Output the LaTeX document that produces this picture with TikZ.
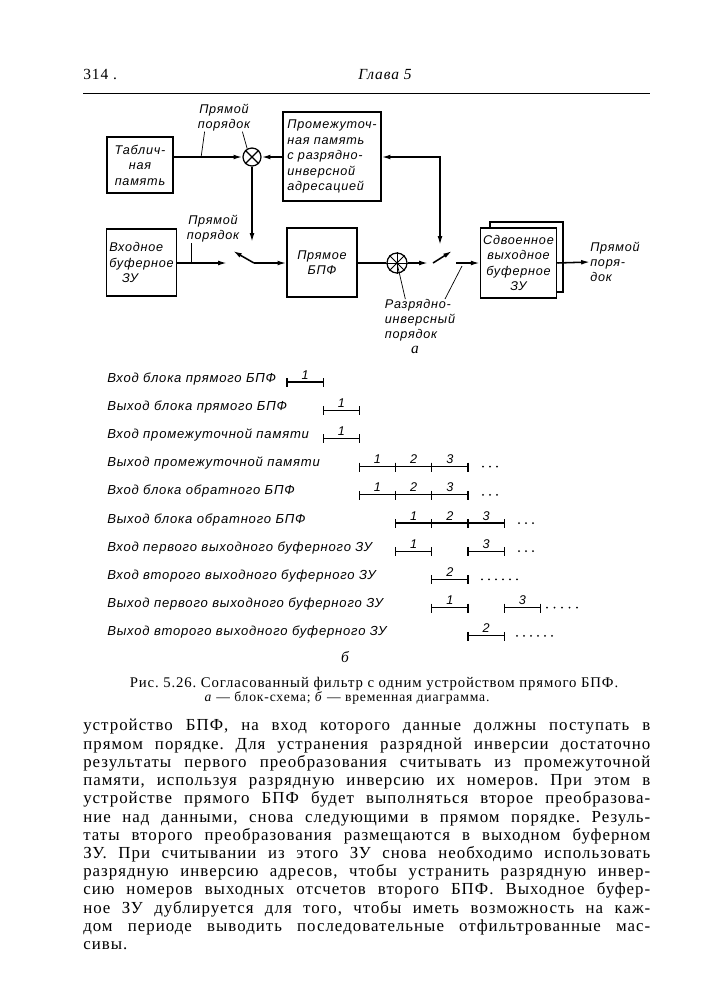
\documentclass[tikz,border=0pt]{standalone}
\usepackage{fontspec}
\setmainfont{Liberation Serif}
\newfontfamily\gost[LetterSpace=6]{Liberation Sans}
\newfontfamily\bookfont[LetterSpace=6]{Liberation Serif}
\usetikzlibrary{arrows.meta,positioning,calc}
\frenchspacing
\newcommand{\bline}[1]{\makebox[141.75mm][s]{#1}}
\tikzset{
  >={Latex[length=2.2mm,width=1.2mm]},
  blk/.style={draw,line width=0.9pt,fill=white,align=center,inner sep=2pt,
    font=\gost\itshape\fontsize{9}{11}\selectfont},
  sig/.style={line width=1.1pt},
  lead/.style={line width=0.5pt},
  lbl/.style={font=\gost\itshape\fontsize{9}{10.5}\selectfont,inner sep=0pt,align=center},
  rowlbl/.style={font=\gost\itshape\fontsize{9.3}{11}\selectfont,anchor=base west,inner sep=0pt},
  bar/.style={line width=0.8pt},
  num/.style={font=\gost\itshape\fontsize{9}{10}\selectfont,anchor=base,inner sep=0pt},
  book/.style={font=\bookfont\fontsize{#1}{13}\selectfont,inner sep=0pt},
  book/.default=11,
}

\begin{document}
\begin{tikzpicture}[x=0.25mm,y=-0.25mm]
  \fill[white] (0,0) rectangle (702,1000);
  \useasboundingbox (0,0) rectangle (702,1000);

  % page head
  \node[book,anchor=base west] (pgno) at (83,79) {314 .};
  \node[book,anchor=base,font=\bookfont\itshape\fontsize{11}{13}\selectfont] (chap) at (385,79) {Глава 5};
  \draw[line width=0.7pt] (83,93) -- (650,93);

  % a: block diagram
  \node[blk,minimum width=16.5mm,minimum height=14mm] (tab) at (140,165) {Таблич-\\ная\\память};
  \node[blk,align=left,minimum width=24.5mm,minimum height=22.25mm] (mem) at (332,156.5)
    {Промежуточ-\\ная память\\с разрядно-\\инверсной\\адресацией};
  \node[circle,draw,line width=0.9pt,minimum size=4.5mm,inner sep=0pt] (mul) at (252,157) {};
  \draw[line width=0.8pt] (mul.45) -- (mul.225) (mul.135) -- (mul.315);

  \node[blk,align=left,minimum width=17.25mm,minimum height=16.75mm] (inbuf) at (141.5,262.5)
    {Входное\\буферное\\\hspace*{1em}ЗУ};
  \node[blk,minimum width=17.5mm,minimum height=17.25mm] (fft) at (322,262.5) {Прямое\\БПФ};
  \node[circle,draw,line width=0.9pt,minimum size=5mm,inner sep=0pt] (wh) at (397,263) {};
  \foreach \a/\b in {0/180,45/225,90/270,135/315}
    \draw[line width=0.6pt] (wh.\a) -- (wh.\b);
  \fill (wh.center) circle[radius=0.35mm];
  \node[blk,minimum width=18.25mm,minimum height=17.5mm] (dblb) at (526.5,257) {};
  \node[blk,minimum width=18.25mm,minimum height=17.5mm] (dbl) at (518.5,263)
    {Сдвоенное\\выходное\\буферное\\ЗУ};
  \node[lbl,align=left,anchor=west] (outlab) at (590,262) {Прямой\\поря-\\док};

  % switches
  \coordinate (sw1in) at (227,263);
  \coordinate (sw1p) at (254,263);
  \coordinate (sw1b) at (233,251);
  \coordinate (sw1top) at (252,242);
  \coordinate (sw2in) at (428,263);
  \coordinate (sw2p) at (433,263);
  \coordinate (sw2b) at (452,251);
  \coordinate (sw2top) at (440,245);
  \coordinate (sw2out) at (456,263);

  \draw[sig,->] (tab.east |- mul) -- (mul.west);
  \draw[sig,->] (mem.west |- mul) -- (mul.east);
  \draw[sig,<->] (mem.east |- mul) -| (sw2top);
  \draw[sig,->] (mul.south) -- (sw1top);
  \draw[sig,->] (inbuf.east |- sw1p) -- (sw1in);
  \draw[sig,->] (sw1p) -- (sw1b);
  \draw[sig,->] (sw1p) -- (fft.west |- sw1p);
  \draw[sig] (fft.east |- wh) -- (wh.west);
  \draw[sig,->] (wh.east) -- (sw2in);
  \draw[sig,->] (sw2p) -- (sw2b);
  \draw[sig,->] (sw2out) -- (dbl.west |- sw2out);
  \draw[sig,->] (dbl.east |- sw2out) -- (outlab.west);

  % labels with leaders
  \node[lbl] (ord1) at (224,118) {Прямой\\порядок};
  \coordinate (ord1foot) at ($(tab.east |- mul)!0.4!(mul.west)$);
  \draw[lead] (ord1foot) -- ($(ord1.south west)+(7,0)$);
  \draw[lead] ($(ord1.south east)+(-8,0)$) -- (mul.120);
  \node[lbl] (ord2) at (213,229) {Прямой\\порядок};
  \coordinate (ord2foot) at ($(inbuf.east |- sw1p)!0.28!(sw1in)$);
  \draw[lead] (ord2foot) -- (ord2foot |- ord2.south);
  \node[lbl,align=left] (ord3) at (420,320) {Разрядно-\\инверсный\\порядок};
  \coordinate (ord3top) at ($(sw2out)+(6,3)$);
  \draw[lead] (wh.center) -- (ord3.125);
  \draw[lead] (ord3top) -- (ord3.40);
  \node[book,font=\bookfont\itshape\fontsize{11}{13}\selectfont] (suba) at (415,350) {а};

  % b: timing diagram
  \foreach \r/\t in {1/Вход блока прямого БПФ, 2/Выход блока прямого БПФ,
      3/Вход промежуточной памяти, 4/Выход промежуточной памяти,
      5/Вход блока обратного БПФ, 6/Выход блока обратного БПФ,
      7/Вход первого выходного буферного ЗУ, 8/Вход второго выходного буферного ЗУ,
      9/Выход первого выходного буферного ЗУ, 10/Выход второго выходного буферного ЗУ}
    \node[rowlbl] (row\r) at (107,{382+28.2*(\r-1)}) {\t};
  \foreach \r/\j/\n in {1/0/1, 2/1/1, 3/1/1, 4/2/1, 4/3/2, 4/4/3, 5/2/1, 5/3/2, 5/4/3,
      6/3/1, 6/4/2, 6/5/3, 7/3/1, 7/5/3, 8/4/2, 9/4/1, 9/6/3, 10/5/2} {
    \pgfmathsetmacro{\yy}{382+28.2*(\r-1)}
    \pgfmathsetmacro{\xa}{287+36.2*\j}
    \draw[bar] (\xa,\yy) -- ++(36.2,0);
    \draw[bar] (\xa,\yy-4) -- ++(0,9) (\xa+36.2,\yy-4) -- ++(0,9);
    \node[num] (seg\r-\j) at (\xa+18.1,\yy-3) {\n};
  }
  \foreach \r/\x/\c/\d in {4/483/3/7, 5/483/3/7, 6/519/3/7, 7/519/3/7,
      8/482/6/7, 9/547/5/7.5, 10/517/6/7}
    \foreach \i in {1,...,\c}
      \fill ({\x+\d*(\i-1)},{382+28.2*(\r-1)}) circle[radius=0.25mm];
  \node[book,font=\bookfont\itshape\fontsize{11}{13}\selectfont] (subb) at (345,657) {б};

  % caption
  \node[book=10.5,anchor=base] (cap1) at (374,687)
    {Рис. 5.26. Согласованный фильтр с одним устройством прямого БПФ.};
  \node[book=9.7,anchor=base] (cap2) at (347,701)
    {\textit{а} — блок-схема; \textit{б} — временная диаграмма.};

  % running text
  \node[anchor=north west,inner sep=0pt,align=left,
    font=\bookfont\fontsize{12}{12.97}\selectfont] (body) at (83,719) {%
    \bline{устройство БПФ, на вход которого данные должны поступать в}\\
    \bline{прямом порядке. Для устранения разрядной инверсии достаточно}\\
    \bline{результаты первого преобразования считывать из промежуточной}\\
    \bline{памяти, используя разрядную инверсию их номеров. При этом в}\\
    \bline{устройстве прямого БПФ будет выполняться второе преобразова-}\\
    \bline{ние над данными, снова следующими в прямом порядке. Резуль-}\\
    \bline{таты второго преобразования размещаются в выходном буферном}\\
    \bline{ЗУ. При считывании из этого ЗУ снова необходимо использовать}\\
    \bline{разрядную инверсию адресов, чтобы устранить разрядную инвер-}\\
    \bline{сию номеров выходных отсчетов второго БПФ. Выходное буфер-}\\
    \bline{ное ЗУ дублируется для того, чтобы иметь возможность на каж-}\\
    \bline{дом периоде выводить последовательные отфильтрованные мас-}\\
    сивы.};
\end{tikzpicture}
\end{document}
